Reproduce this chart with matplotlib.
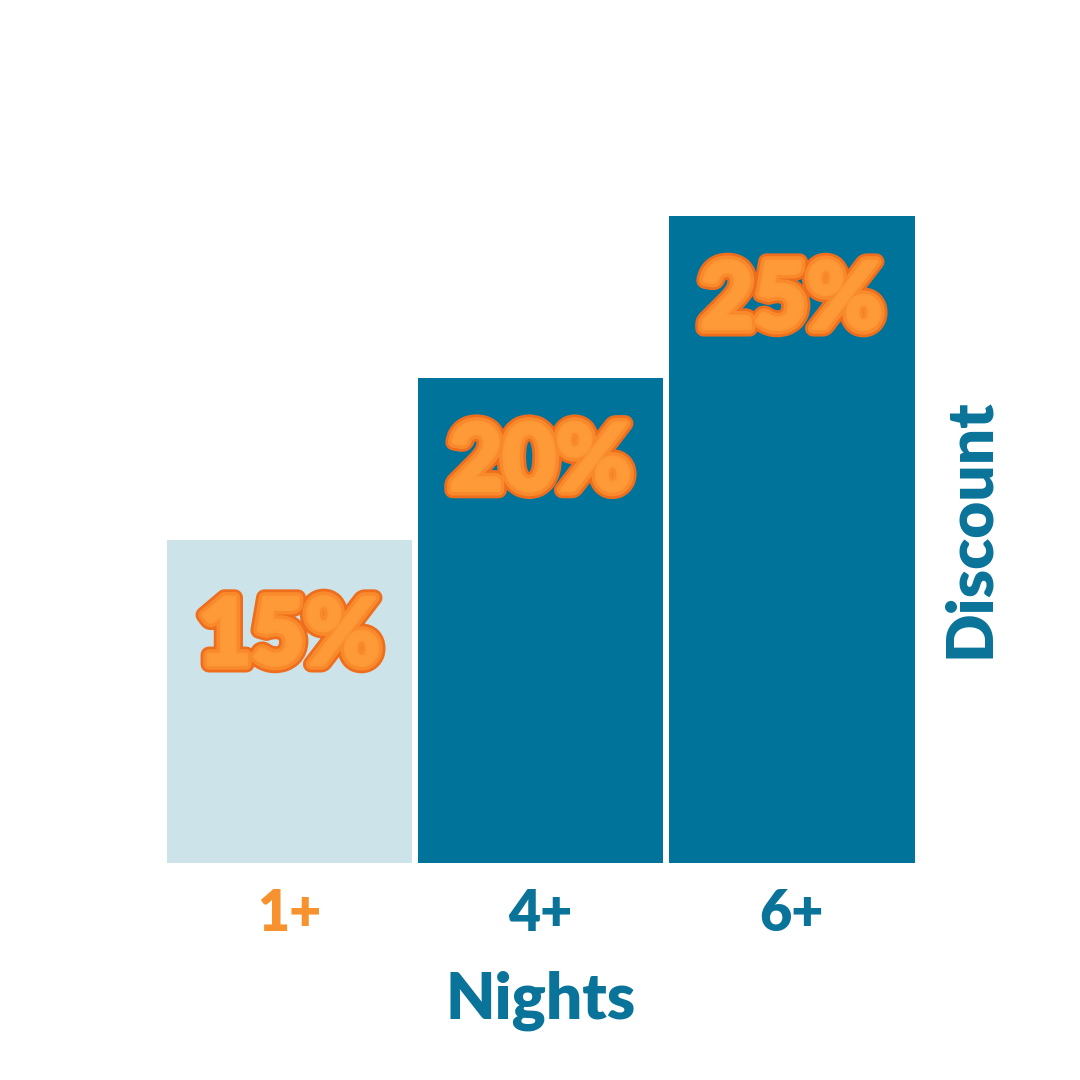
import matplotlib
matplotlib.use("Agg")
import matplotlib.pyplot as plt
import matplotlib.patheffects as pe

categories = ["1+", "4+", "6+"]
discounts = [15, 20, 25]
labels = ["15%", "20%", "25%"]
bar_colors = ["#CDE3EA", "#00739A", "#00739A"]
tick_colors = ["#F7922E", "#0A7399", "#0A7399"]
label_offsets = [-71, -62, -62]

TEAL = "#0A7399"

fig = plt.figure(figsize=(10.8, 10.8), dpi=100)
ax = fig.add_axes([166.5/1080, 1-863/1080, (914.5-166.5)/1080, (863-100)/1080])
x = list(range(len(categories)))
bars = ax.bar(x, discounts, width=0.98, bottom=0, color=bar_colors, edgecolor="none")
ax.set_xlim(-0.49, 2.49)
ax.set_ylim(5, 28.59)
for s in ax.spines.values():
    s.set_visible(False)
ax.set_yticks([])
ax.set_xticks(x)
ax.set_xticklabels(categories, fontsize=40, fontweight="heavy", family="Lato")
for t, c in zip(ax.get_xticklabels(), tick_colors):
    t.set_color(c)
ax.tick_params(axis="x", length=0, pad=18)
ax.set_xlabel("Nights", fontsize=46, fontweight="heavy", family="Lato", color=TEAL, labelpad=22)

fig.text(970/1080, 1-528/1080, "Discount", rotation=90, ha="center", va="center",
         fontsize=46, fontweight="heavy", family="Lato", color=TEAL)

for xi, v, lab, off in zip(x, discounts, labels, label_offsets):
    ax.annotate(lab, xy=(xi, v), xytext=(0, off), textcoords="offset points",
                ha="center", va="center", fontsize=66, fontweight="black", family="Lato",
                color="#FF9A38",
                path_effects=[pe.Stroke(linewidth=12, foreground="#EE6E1E", joinstyle="round"),
                              pe.Stroke(linewidth=8, foreground="#F98A2C", joinstyle="round"),
                              pe.Stroke(linewidth=3, foreground="#FD9836", joinstyle="round"),
                              pe.Normal()])

fig.savefig("out.png", dpi=100, facecolor="white")
